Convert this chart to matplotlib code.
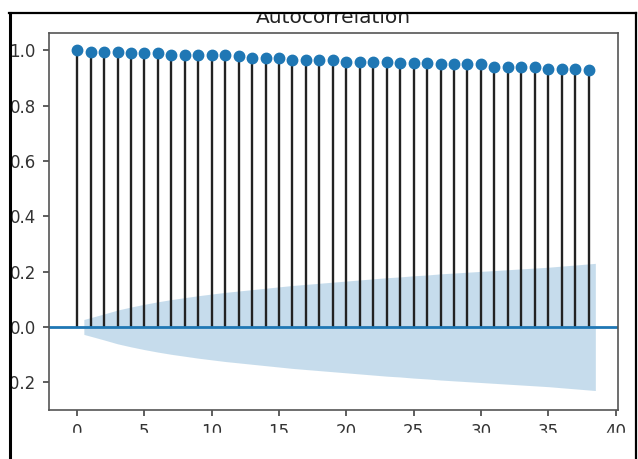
import numpy as np
import matplotlib
matplotlib.use("Agg")
import matplotlib.pyplot as plt
from matplotlib.patches import Rectangle
from matplotlib.lines import Line2D

# autocorrelation values for lags 0..38
lags = np.arange(39)
acf = [1.000, 0.996, 0.996, 0.995, 0.990, 0.990, 0.990, 0.984, 0.984, 0.984,
       0.982, 0.982, 0.980, 0.974, 0.974, 0.973, 0.966, 0.966, 0.966, 0.966,
       0.960, 0.960, 0.960, 0.958, 0.954, 0.954, 0.954, 0.952, 0.952, 0.952,
       0.952, 0.940, 0.940, 0.940, 0.940, 0.933, 0.933, 0.933, 0.929]

# half width of the confidence band for lags 1..38
band = [0.027, 0.047, 0.061, 0.072, 0.082, 0.091, 0.099, 0.106, 0.113, 0.119,
        0.125, 0.130, 0.135, 0.140, 0.145, 0.150, 0.154, 0.158, 0.162, 0.166,
        0.170, 0.174, 0.178, 0.181, 0.185, 0.188, 0.192, 0.195, 0.198, 0.201,
        0.204, 0.207, 0.210, 0.213, 0.216, 0.220, 0.224, 0.230]

fig = plt.figure(figsize=(6.38, 4.59), dpi=100)
ax = fig.add_axes([0.077, 0.107, 0.892, 0.821])

ax.vlines(lags, 0, acf, color="#222222", lw=1.7)
ax.plot(lags, acf, "o", color="#1f77b4", markersize=7.5)
ax.axhline(0, color="#1f77b4", lw=2)

# band stretches half a lag past the first and last lag, like statsmodels
bx = lags[1:].astype(float)
bx[0] -= 0.5
bx[-1] += 0.5
band = np.array(band)
ax.fill_between(bx, -band, band, color="#1f77b4", alpha=0.25, lw=0)

ax.set_xlim(-2.08, 40.2)
ax.set_ylim(-0.30, 1.063)
ax.set_xticks(np.arange(0, 41, 5))
ax.set_yticks([-0.2, 0.0, 0.2, 0.4, 0.6, 0.8, 1.0])
ax.set_yticklabels(["\u22120.2", "0.0", "0.2", "0.4", "0.6", "0.8", "1.0"])
ax.tick_params(labelsize=12, length=4.5, width=1.1, pad=5, colors="#333333")
for s in ax.spines.values():
    s.set_color("#555555")
    s.set_linewidth(1.2)
ax.set_title("Autocorrelation", fontsize=14.5, pad=7, color="#222222")

# the screenshot is cropped inside a black frame
W, H = 638, 459
def px(x0, y0, x1, y1):
    return Rectangle((x0 / W, 1 - y1 / H), (x1 - x0) / W, (y1 - y0) / H,
                     transform=fig.transFigure, color="white", zorder=10)
fig.add_artist(px(0, 0, 10, H))
fig.add_artist(px(0, 0, W, 13))
fig.add_artist(px(636, 0, W, H))
fig.add_artist(px(0, 433, W, H))  # bottom of x labels is cut off in the shot
frame = dict(transform=fig.transFigure, color="black", zorder=11)
fig.add_artist(Line2D([9.5 / W, 9.5 / W], [0, 1 - 13 / H], lw=2.2, **frame))
fig.add_artist(Line2D([9 / W, 636 / W], [1 - 13 / H, 1 - 13 / H], lw=1.6, **frame))
fig.add_artist(Line2D([635.5 / W, 635.5 / W], [0, 1 - 13 / H], lw=1.6, **frame))

fig.savefig("out.png", dpi=100)
